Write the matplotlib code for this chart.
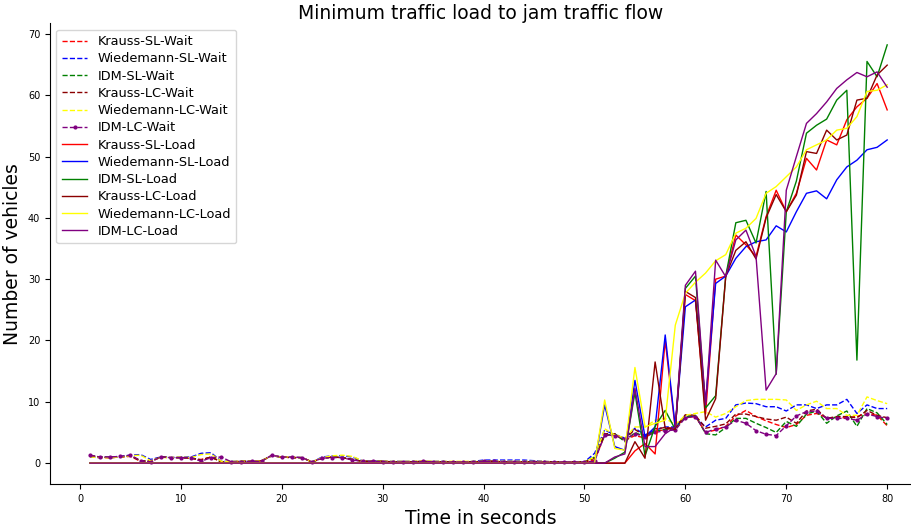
import matplotlib.pyplot as plt

# thoi gian (giay)
t = list(range(1, 81))

# 50 giay dau: chua co xe ket
quiet = [0, 0, 0, 0, 0, 0, 0, 0, 0, 0,
         0, 0, 0, 0, 0, 0, 0, 0, 0, 0,
         0, 0, 0, 0, 0, 0, 0, 0, 0, 0,
         0, 0, 0, 0, 0, 0, 0, 0, 0, 0,
         0, 0, 0, 0, 0, 0, 0, 0, 0, 0]

# Wait series
krauss_sl_wait = [1.1, 0.9, 0.9, 1.0, 1.1, 0.3, 0.3, 1.0, 0.9, 0.9, 0.8, 0.6, 1.0, 0.2, 0.2, 0.3, 0.3, 0.4, 1.2, 1.0,
                  0.9, 0.9, 0.2, 0.8, 1.0, 0.9, 0.6, 0.3, 0.3, 0.3, 0.2, 0.2, 0.2, 0.3, 0.2, 0.2, 0.2, 0.2, 0.2, 0.3,
                  0.3, 0.2, 0.2, 0.2, 0.2, 0.2, 0.2, 0.2, 0.2, 0.2, 0.5, 4.5, 4.6, 3.7, 4.5, 4.1, 5.3, 5.4, 5.9, 7.4,
                  7.6, 5.0, 5.4, 6.0, 7.7, 8.6, 7.6, 6.9, 6.3, 5.8, 6.3, 7.8, 8.1, 7.4, 7.4, 7.4, 7.6, 8.1, 7.8, 6.1]
wiedemann_sl_wait = [1.0, 0.9, 1.0, 1.1, 1.3, 1.4, 0.6, 1.0, 0.9, 1.0, 1.0, 1.6, 1.7, 0.3, 0.3, 0.3, 0.3, 0.4, 1.2, 1.0,
                     1.0, 0.9, 0.2, 1.0, 1.2, 1.2, 1.0, 0.4, 0.4, 0.3, 0.3, 0.3, 0.3, 0.3, 0.3, 0.3, 0.2, 0.2, 0.3, 0.5,
                     0.5, 0.5, 0.5, 0.5, 0.4, 0.3, 0.2, 0.2, 0.2, 0.2, 1.6, 5.4, 4.6, 4.1, 5.7, 4.6, 5.4, 5.9, 5.9, 7.8,
                     7.5, 5.9, 7.0, 7.3, 9.5, 9.8, 9.7, 9.2, 9.2, 8.5, 9.5, 9.5, 8.9, 9.5, 9.5, 10.4, 8.1, 9.5, 8.9, 8.9]
idm_sl_wait = [1.2, 1.0, 0.9, 1.0, 1.2, 0.4, 0.3, 1.0, 0.9, 0.9, 0.9, 0.5, 1.0, 0.2, 0.2, 0.3, 0.3, 0.4, 1.2, 1.0,
               0.9, 0.9, 0.2, 0.8, 1.0, 0.9, 0.6, 0.3, 0.3, 0.3, 0.2, 0.2, 0.2, 0.3, 0.2, 0.2, 0.2, 0.2, 0.2, 0.3,
               0.3, 0.2, 0.2, 0.2, 0.2, 0.2, 0.2, 0.2, 0.2, 0.2, 1.0, 4.5, 4.8, 3.5, 5.0, 4.3, 5.2, 5.5, 5.6, 7.5,
               7.8, 4.8, 4.6, 5.8, 7.3, 7.3, 6.5, 5.8, 5.0, 6.8, 6.0, 8.0, 8.5, 6.5, 7.7, 8.5, 6.0, 8.9, 8.2, 6.3]
krauss_lc_wait = [1.2, 1.0, 0.9, 1.0, 1.2, 0.4, 0.3, 1.0, 0.9, 0.9, 0.8, 0.5, 1.0, 0.2, 0.2, 0.3, 0.3, 0.4, 1.2, 1.0,
                  0.9, 0.9, 0.2, 0.8, 1.0, 0.9, 0.6, 0.3, 0.3, 0.3, 0.2, 0.2, 0.2, 0.3, 0.2, 0.2, 0.2, 0.2, 0.2, 0.3,
                  0.3, 0.2, 0.2, 0.2, 0.2, 0.2, 0.2, 0.2, 0.2, 0.2, 0.8, 4.8, 4.8, 3.9, 5.5, 4.4, 5.6, 5.8, 5.7, 7.9,
                  7.8, 5.7, 6.0, 6.4, 8.0, 8.0, 7.6, 7.2, 7.0, 7.5, 6.5, 8.5, 8.8, 7.3, 7.6, 7.6, 7.4, 8.6, 7.8, 7.4]
wiedemann_lc_wait = [1.0, 0.9, 0.9, 1.0, 1.2, 1.3, 0.4, 0.9, 0.9, 1.0, 0.9, 1.4, 1.5, 0.3, 0.3, 0.3, 0.3, 0.4, 1.2, 1.0,
                     1.0, 0.9, 0.2, 0.9, 1.2, 1.3, 1.1, 0.4, 0.3, 0.3, 0.3, 0.3, 0.3, 0.4, 0.3, 0.3, 0.3, 0.3, 0.3, 0.3,
                     0.3, 0.3, 0.3, 0.3, 0.3, 0.3, 0.2, 0.2, 0.2, 0.2, 1.0, 5.6, 4.6, 4.1, 5.9, 5.9, 7.0, 7.3, 6.3, 7.8,
                     8.1, 8.4, 7.5, 8.1, 9.2, 10.2, 10.4, 10.4, 10.4, 10.3, 8.6, 9.5, 10.1, 8.9, 8.9, 7.8, 7.8, 10.8, 10.2, 9.7]
idm_lc_wait = [1.3, 1.0, 1.0, 1.1, 1.3, 0.4, 0.2, 1.0, 0.9, 0.9, 0.9, 0.3, 0.9, 1.0, 0.2, 0.2, 0.3, 0.3, 1.3, 1.0,
               1.0, 0.9, 0.2, 0.8, 0.9, 0.9, 0.5, 0.3, 0.3, 0.2, 0.2, 0.2, 0.2, 0.3, 0.2, 0.2, 0.2, 0.2, 0.2, 0.3,
               0.3, 0.2, 0.2, 0.2, 0.2, 0.2, 0.2, 0.2, 0.2, 0.2, 0.3, 4.6, 4.5, 3.9, 4.8, 4.3, 5.0, 5.3, 5.4, 7.4,
               7.6, 5.0, 5.6, 5.9, 7.0, 6.5, 5.3, 4.7, 4.5, 6.1, 7.7, 8.4, 8.5, 7.3, 7.3, 7.3, 7.0, 8.0, 7.6, 7.3]

# Load series (tu giay 51)
krauss_sl_load = quiet + [0, 0, 0, 0, 2.0, 3.2, 1.5, 20.0, 5.5, 27.5,
                          26.5, 8.0, 30.0, 30.5, 37.2, 35.6, 33.7, 40.2, 44.5, 41.0,
                          44.0, 49.7, 47.8, 52.7, 51.9, 56.0, 58.1, 59.5, 61.9, 57.6]
wiedemann_sl_load = quiet + [0, 9.5, 2.7, 2.1, 13.5, 4.3, 5.9, 20.9, 5.9, 25.5,
                             26.6, 10.0, 29.3, 30.5, 33.4, 35.3, 36.1, 36.4, 38.7, 37.7,
                             41.0, 44.0, 44.4, 43.1, 46.2, 48.3, 49.4, 51.1, 51.5, 52.7]
idm_sl_load = quiet + [0, 0, 0.8, 1.8, 11.5, 1.2, 6.0, 8.6, 5.5, 28.5,
                       30.5, 9.0, 11.0, 30.5, 39.2, 39.6, 35.9, 44.3, 14.5, 41.0,
                       46.0, 53.8, 55.1, 56.1, 59.2, 60.8, 16.8, 65.5, 63.0, 68.2]
krauss_lc_load = quiet + [0, 0, 0, 0, 3.5, 0.8, 16.5, 5.7, 5.5, 28.0,
                          27.0, 7.0, 10.5, 30.5, 34.7, 36.1, 33.3, 40.0, 43.8, 41.0,
                          43.7, 50.8, 50.5, 54.3, 52.7, 53.5, 59.2, 59.5, 63.3, 64.9]
wiedemann_lc_load = quiet + [0, 10.3, 2.4, 2.1, 15.6, 5.9, 6.5, 7.0, 22.5, 27.7,
                             29.5, 31.0, 33.0, 34.0, 37.5, 38.3, 39.9, 44.0, 45.1, 46.7,
                             48.3, 51.1, 51.9, 52.7, 54.3, 54.6, 56.5, 60.6, 60.8, 61.7]
idm_lc_load = quiet + [0, 0, 1.0, 1.5, 12.2, 2.7, 2.7, 4.8, 5.9, 29.0,
                       31.3, 9.5, 33.1, 30.4, 36.4, 38.0, 33.7, 11.9, 14.6, 44.5,
                       50.0, 55.4, 57.0, 58.9, 61.1, 62.5, 63.7, 63.0, 63.8, 61.3]

fig = plt.figure(figsize=(9.11, 5.30), dpi=100)
ax = fig.add_axes([0.0549, 0.0868, 0.9451, 0.869])

# Ve duong cho (wait) - net dut
ax.plot(t, krauss_sl_wait, '--', color='red', linewidth=1.0, label='Krauss-SL-Wait')
ax.plot(t, wiedemann_sl_wait, '--', color='blue', linewidth=1.0, label='Wiedemann-SL-Wait')
ax.plot(t, idm_sl_wait, '--', color='green', linewidth=1.0, label='IDM-SL-Wait')
ax.plot(t, krauss_lc_wait, '--', color='darkred', linewidth=1.0, label='Krauss-LC-Wait')
ax.plot(t, wiedemann_lc_wait, '--', color='yellow', linewidth=1.0, label='Wiedemann-LC-Wait')
ax.plot(t, idm_lc_wait, '--', marker='.', markersize=4, color='purple', linewidth=1.0, label='IDM-LC-Wait')

# Ve duong tai (load) - net lien
ax.plot(t, krauss_sl_load, color='red', linewidth=1.0, label='Krauss-SL-Load')
ax.plot(t, wiedemann_sl_load, color='blue', linewidth=1.0, label='Wiedemann-SL-Load')
ax.plot(t, idm_sl_load, color='green', linewidth=1.0, label='IDM-SL-Load')
ax.plot(t, krauss_lc_load, color='darkred', linewidth=1.0, label='Krauss-LC-Load')
ax.plot(t, wiedemann_lc_load, color='yellow', linewidth=1.0, label='Wiedemann-LC-Load')
ax.plot(t, idm_lc_load, color='purple', linewidth=1.0, label='IDM-LC-Load')

ax.set_xlim(-2.97, 82.36)
ax.set_ylim(-3.4, 71.7)
ax.spines['top'].set_visible(False)
ax.spines['right'].set_visible(False)
ax.tick_params(labelsize=7)

ax.set_title('Minimum traffic load to jam traffic flow', fontsize=13.5, pad=3)
ax.set_xlabel('Time in seconds', fontsize=13.5)
ax.set_ylabel('Number of vehicles', fontsize=13.5)
ax.legend(loc='upper left', fontsize=9.3, labelspacing=0.33)

plt.savefig('out.png', dpi=100)
